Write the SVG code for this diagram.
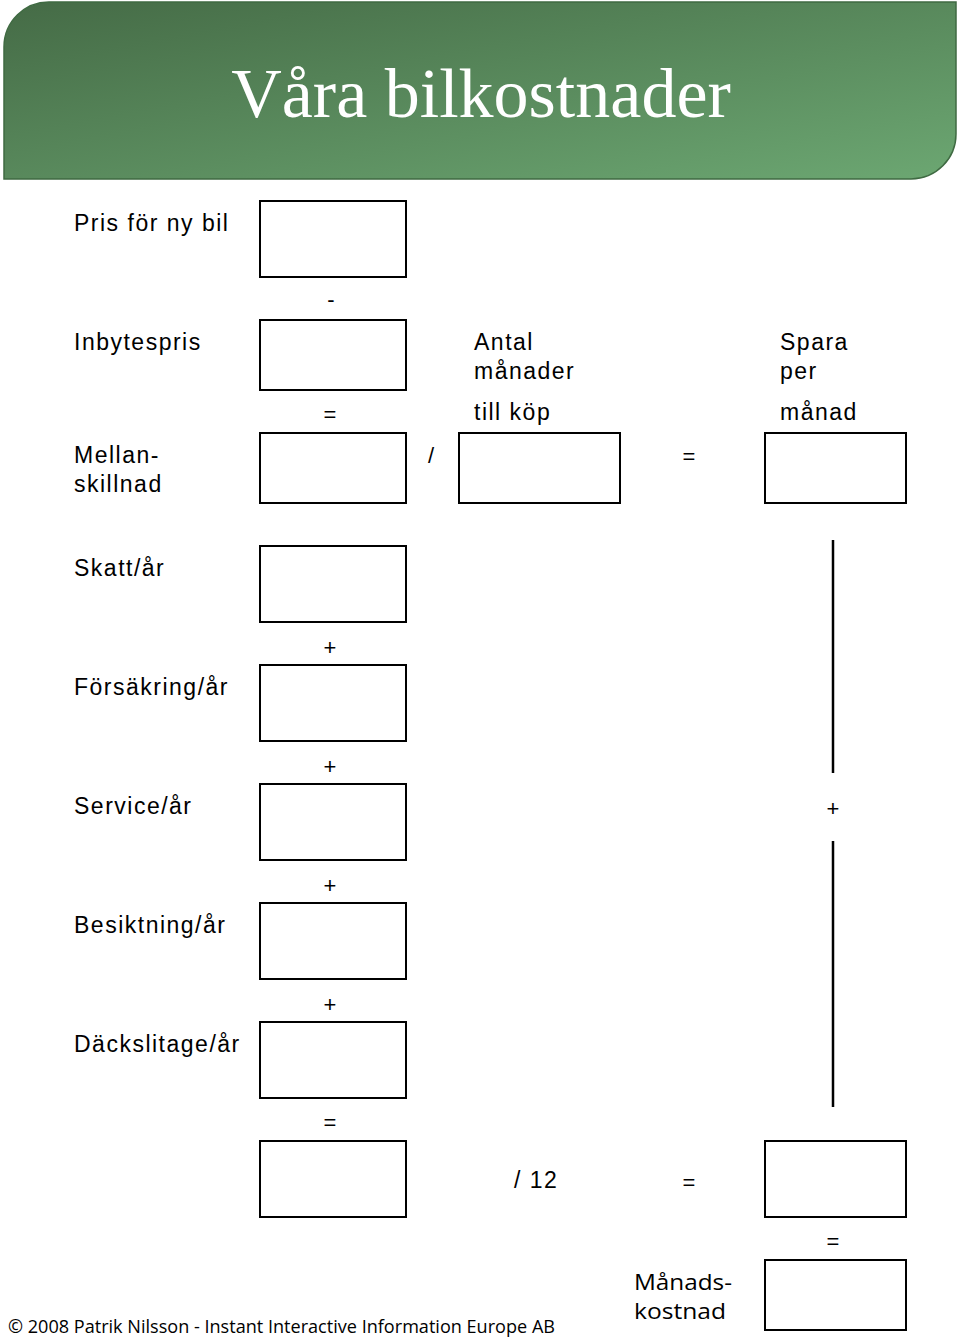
<svg xmlns="http://www.w3.org/2000/svg" width="960" height="1337" viewBox="0 0 960 1337">
<defs>
<linearGradient id="hg" x1="0" y1="0" x2="1" y2="1">
<stop offset="0" stop-color="#456b46"/>
<stop offset="1" stop-color="#6ca772"/>
</linearGradient>
<style>
.box{fill:#fff;stroke:#000;stroke-width:2}
.lbl{font-family:"Liberation Sans",Arial,sans-serif;font-size:23px;letter-spacing:1.5px;fill:#000}
.op{font-family:"Liberation Sans",Arial,sans-serif;font-size:22px;fill:#000;text-anchor:middle}
.cond{font-family:"Open Sans","Noto Sans",sans-serif;fill:#000}
.ln{stroke:#000;stroke-width:2.5;fill:none}
</style>
</defs>
<g id="header">
<path d="M50 2 H956 V134 A45 45 0 0 1 911 179 H4 V47 A45 45 0 0 1 50 2 Z" fill="url(#hg)" stroke="#3f6a42" stroke-width="1.5"/>
<text x="481" y="117" text-anchor="middle" font-family="Liberation Serif,Times New Roman,serif" font-size="70" fill="#fff">Våra bilkostnader</text>
</g>
<g id="n-pris"><text class="lbl" x="74" y="231">Pris för ny bil</text><rect class="box" x="260" y="201" width="146" height="76"/></g>
<g id="n-inbyte"><text class="lbl" x="74" y="350">Inbytespris</text><rect class="box" x="260" y="320" width="146" height="70"/></g>
<g id="n-mellan"><text class="lbl" x="74" y="463">Mellan-</text><text class="lbl" x="74" y="492">skillnad</text><rect class="box" x="260" y="433" width="146" height="70"/></g>
<g id="n-antal"><text class="lbl" x="474" y="350">Antal</text><text class="lbl" x="474" y="379">månader</text><text class="lbl" x="474" y="420">till köp</text><rect class="box" x="459" y="433" width="161" height="70"/></g>
<g id="n-spara"><text class="lbl" x="780" y="350">Spara</text><text class="lbl" x="780" y="379">per</text><text class="lbl" x="780" y="420">månad</text><rect class="box" x="765" y="433" width="141" height="70"/></g>
<g id="n-skatt"><text class="lbl" x="74" y="576">Skatt/år</text><rect class="box" x="260" y="546" width="146" height="76"/></g>
<g id="n-forsakring"><text class="lbl" x="74" y="695">Försäkring/år</text><rect class="box" x="260" y="665" width="146" height="76"/></g>
<g id="n-service"><text class="lbl" x="74" y="814">Service/år</text><rect class="box" x="260" y="784" width="146" height="76"/></g>
<g id="n-besiktning"><text class="lbl" x="74" y="933">Besiktning/år</text><rect class="box" x="260" y="903" width="146" height="76"/></g>
<g id="n-dack"><text class="lbl" x="74" y="1052">Däckslitage/år</text><rect class="box" x="260" y="1022" width="146" height="76"/></g>
<g id="n-summa"><rect class="box" x="260" y="1141" width="146" height="76"/></g>
<g id="n-arsmanad"><rect class="box" x="765" y="1141" width="141" height="76"/></g>
<g id="n-manadskostnad"><text class="cond" x="634" y="1290" font-size="21" textLength="98" lengthAdjust="spacingAndGlyphs">Månads-</text><text class="cond" x="634" y="1319" font-size="21" textLength="92" lengthAdjust="spacingAndGlyphs">kostnad</text><rect class="box" x="765" y="1260" width="141" height="70"/></g>
<g id="operators">
<text class="op" x="331" y="307">-</text>
<text class="op" x="330" y="422">=</text>
<text class="op" x="431" y="463">/</text>
<text class="op" x="689" y="464">=</text>
<text class="op" x="330" y="655">+</text>
<text class="op" x="330" y="774">+</text>
<text class="op" x="330" y="893">+</text>
<text class="op" x="330" y="1012">+</text>
<text class="op" x="330" y="1130">=</text>
<text class="lbl" x="514" y="1188">/ 12</text>
<text class="op" x="689" y="1190">=</text>
<text class="op" x="833" y="816">+</text>
<text class="op" x="833" y="1249">=</text>
</g>
<g id="connectors">
<line class="ln" x1="833" y1="540" x2="833" y2="773"/>
<line class="ln" x1="833" y1="841" x2="833" y2="1107"/>
</g>
<text class="cond" x="8" y="1333" font-size="19" textLength="547" lengthAdjust="spacingAndGlyphs">© 2008 Patrik Nilsson - Instant Interactive Information Europe AB</text>
</svg>
